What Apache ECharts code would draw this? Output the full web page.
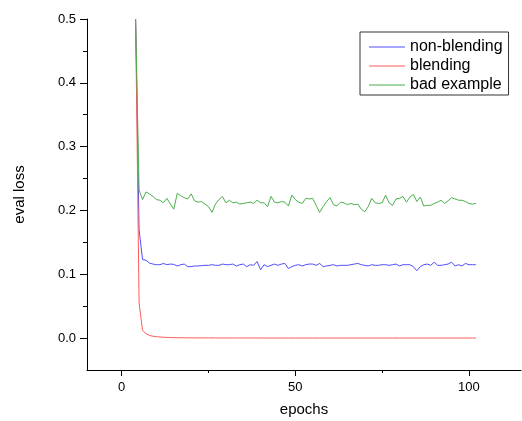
<!DOCTYPE html>
<html>
<head>
<meta charset="utf-8">
<title>eval loss</title>
<script src="https://cdn.jsdelivr.net/npm/echarts@6/dist/echarts.min.js"></script>
<style>
	html, body { margin: 0; padding: 0; background: #fff; }
	#evalLossChartContainer { width: 522px; height: 421px; }
</style>
</head>
<body>
<div id="evalLossChartContainer"></div>
<script>
// 图例名称
var seriesNames = ['non-blending', 'blending', 'bad example'];

// 第一个 epoch 为 4，最后一个为 102
var firstEpoch = 4;

// non-blending (4 ~ 102)
var nonBlendingLoss = [
	0.5, 0.17, 0.123, 0.122, 0.1175, 0.116, 0.115, 0.115, 0.117, 0.115,
	0.116, 0.1155, 0.113, 0.115, 0.116, 0.112, 0.112, 0.113, 0.113, 0.1135,
	0.114, 0.114, 0.115, 0.114, 0.114, 0.116, 0.115, 0.115, 0.116, 0.113,
	0.115, 0.116, 0.112, 0.115, 0.114, 0.120, 0.107, 0.115, 0.112, 0.114,
	0.116, 0.114, 0.116, 0.117, 0.109, 0.112, 0.114, 0.115, 0.113, 0.115,
	0.116, 0.116, 0.114, 0.117, 0.112, 0.113, 0.114, 0.115, 0.113, 0.114,
	0.114, 0.114, 0.115, 0.116, 0.117, 0.115, 0.114, 0.113, 0.115, 0.114,
	0.114, 0.115, 0.115, 0.114, 0.115, 0.116, 0.113, 0.115, 0.115, 0.115,
	0.112, 0.1055, 0.112, 0.115, 0.116, 0.114, 0.119, 0.114, 0.114, 0.115,
	0.116, 0.119, 0.113, 0.115, 0.113, 0.117, 0.115, 0.115, 0.115
];

// blending (4 ~ 102)
var blendingLoss = [
	0.5, 0.055, 0.012, 0.007, 0.004, 0.003, 0.0022, 0.0017, 0.0013, 0.001,
	0.0008, 0.0007, 0.0006, 0.0005, 0.0005, 0.0004, 0.0004, 0.0003, 0.0003, 0.0003,
	0.0003, 0.0003, 0.0003, 0.0002, 0.0002, 0.0002, 0.0002, 0.0002, 0.0002, 0.0002,
	0.0002, 0.0002, 0.0002, 0.0002, 0.0002, 0.0002, 0.0001, 0.0001, 0.0001, 0.0001,
	0.0001, 0.0001, 0.0001, 0.0001, 0.0001, 0.0001, 0.0001, 0.0001, 0.0001, 0.0001,
	0.0001, 0.0001, 0.0001, 0.0001, 0.0001, 0.0001, 0.0001, 0.0001, 0.0001, 0.0001,
	0.0001, 0.0001, 0.0001, 0.0001, 0.0001, 0.0001, 0.0001, 0.0001, 0.0001, 0.0001,
	0.0001, 0.0001, 0.0001, 0.0001, 0.0001, 0.0001, 0.0001, 0.0001, 0.0001, 0.0001,
	0.0001, 0.0001, 0.0001, 0.0001, 0.0001, 0.0001, 0.0001, 0.0001, 0.0001, 0.0001,
	0.0001, 0.0001, 0.0001, 0.0001, 0.0001, 0.0001, 0.0001, 0.0001, 0.0001
];

// bad example (4 ~ 102)
var badExampleLoss = [
	0.5, 0.232, 0.217, 0.229, 0.226, 0.222, 0.217, 0.216, 0.212, 0.219,
	0.210, 0.202, 0.227, 0.223, 0.220, 0.218, 0.226, 0.215, 0.213, 0.214,
	0.210, 0.206, 0.197, 0.210, 0.217, 0.222, 0.212, 0.216, 0.212, 0.213,
	0.210, 0.211, 0.212, 0.213, 0.211, 0.216, 0.212, 0.212, 0.206, 0.222,
	0.213, 0.212, 0.214, 0.213, 0.207, 0.224, 0.217, 0.213, 0.211, 0.219,
	0.218, 0.219, 0.208, 0.197, 0.206, 0.214, 0.220, 0.209, 0.207, 0.213,
	0.212, 0.209, 0.211, 0.209, 0.210, 0.202, 0.198, 0.206, 0.219, 0.212,
	0.211, 0.212, 0.224, 0.212, 0.208, 0.218, 0.219, 0.222, 0.213, 0.221,
	0.225, 0.214, 0.221, 0.207, 0.208, 0.208, 0.211, 0.213, 0.216, 0.211,
	0.215, 0.220, 0.218, 0.216, 0.216, 0.214, 0.211, 0.210, 0.211
];

// 坐标轴刻度
var xMajorTicks = [0, 50, 100];
var xMinorTicks = [25, 75];
var yMajorTicks = [0, 0.1, 0.2, 0.3, 0.4, 0.5];
var yMinorTicks = [0.05, 0.15, 0.25, 0.35, 0.45];

var evalLossChart = {
	fontFamily : '"Liberation Sans", Arial, sans-serif',

	/**
	 * 把 loss 数组转成 [epoch, loss]
	 */
	toPoints : function(lossArray) {
		var points = new Array();
		for (var i = 0; i < lossArray.length; i++) {
			points.push([firstEpoch + i, lossArray[i]]);
		}
		return points;
	},

	/**
	 * 显示图表
	 */
	showChart : function() {
		var myChart = echarts.init(document.getElementById('evalLossChartContainer'), null, {renderer: 'canvas'});
		var font = evalLossChart.fontFamily;
		var lineSeries = function(name, color, data) {
			return {
				name: name,
				type: 'line',
				symbol: 'none',
				xAxisIndex: 0,
				yAxisIndex: 0,
				clip: true,
				animation: false,
				lineStyle: {color: color, width: 1},
				itemStyle: {color: color},
				data: evalLossChart.toPoints(data)
			};
		};
		var option = {
			backgroundColor: '#fff',
			animation: false,
			grid: {
				left: 87,
				right: 1,
				top: 19,
				bottom: 51,
				containLabel: false,
				outerBoundsMode: 'none'
			},
			legend: {
				orient: 'vertical',
				left: 360,
				top: 32,
				padding: [7, 6, 2, 9],
				itemGap: 3,
				itemWidth: 36,
				itemHeight: 1,
				icon: 'rect',
				borderColor: '#333',
				borderWidth: 1,
				textStyle: {fontFamily: font, fontSize: 16, color: '#000'},
				data: seriesNames
			},
			xAxis: [
				{
					type: 'value',
					min: -10,
					max: 115,
					position: 'bottom',
					name: 'epochs',
					nameLocation: 'middle',
					nameGap: 32,
					nameTextStyle: {fontFamily: font, fontSize: 15, color: '#000'},
					axisLine: {show: true, onZero: false, lineStyle: {color: '#000', width: 1}},
					axisTick: {show: true, length: 6, customValues: xMajorTicks, lineStyle: {color: '#000'}},
					axisLabel: {customValues: xMajorTicks, margin: 11, fontFamily: font, fontSize: 13, color: '#000'},
					splitLine: {show: false}
				},
				{
					type: 'value',
					min: -10,
					max: 115,
					position: 'bottom',
					axisLine: {show: false, onZero: false},
					axisTick: {show: true, length: 3, customValues: xMinorTicks, lineStyle: {color: '#000'}},
					axisLabel: {show: false},
					splitLine: {show: false}
				}
			],
			yAxis: [
				{
					type: 'value',
					min: -0.05,
					max: 0.5,
					position: 'left',
					name: 'eval loss',
					nameLocation: 'middle',
					nameGap: 60,
					nameTextStyle: {fontFamily: font, fontSize: 15, color: '#000'},
					axisLine: {show: true, onZero: false, lineStyle: {color: '#000', width: 1}},
					axisTick: {show: true, length: 7, customValues: yMajorTicks, lineStyle: {color: '#000'}},
					axisLabel: {
						customValues: yMajorTicks,
						margin: 11,
						fontFamily: font,
						fontSize: 13,
						color: '#000',
						formatter: function(v) { return v.toFixed(1); }
					},
					splitLine: {show: false}
				},
				{
					type: 'value',
					min: -0.05,
					max: 0.5,
					position: 'left',
					axisLine: {show: false, onZero: false},
					axisTick: {show: true, length: 4, customValues: yMinorTicks, lineStyle: {color: '#000'}},
					axisLabel: {show: false},
					splitLine: {show: false}
				}
			],
			series: [
				lineSeries(seriesNames[0], '#4f4fff', nonBlendingLoss),
				lineSeries(seriesNames[1], '#ff5a5a', blendingLoss),
				lineSeries(seriesNames[2], '#4caf4c', badExampleLoss)
			]
		};
		// 显示图表。
		myChart.setOption(option);
	}
};

evalLossChart.showChart();
</script>
</body>
</html>
